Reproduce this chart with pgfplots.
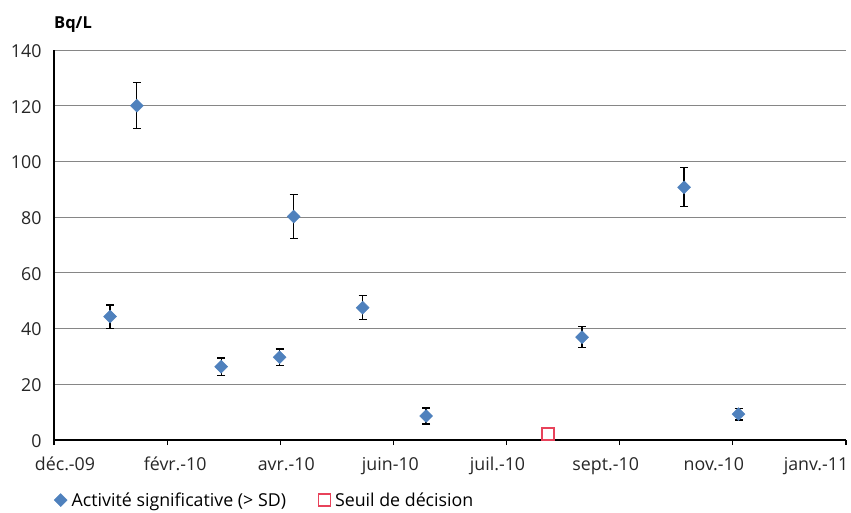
\documentclass[border=0pt]{standalone}
\usepackage{pgfplots}
\pgfplotsset{compat=1.18}
\usepackage{fontspec}
\setmainfont{Open Sans}
\definecolor{serblue}{HTML}{4F81BD}
\definecolor{serred}{HTML}{E8425A}
\definecolor{gridgray}{HTML}{868686}
\newcommand{\lblfont}{\fontsize{17.8bp}{19bp}\selectfont}
\tikzset{xlabnode/.style={anchor=base, inner sep=0pt, font=\lblfont, text=black!85, yshift=-30bp}}
\begin{document}
\begin{tikzpicture}
\path[use as bounding box] (-54bp,-73bp) rectangle (797bp,440bp);
\begin{axis}[
  scale only axis,
  width=792bp, height=390bp,
  xmin=0, xmax=7, ymin=0, ymax=140,
  xtick={0,1,2,3,4,5,6,7},
  xticklabels={},
  ytick={0,20,40,60,80,100,120,140},
  ymajorgrids,
  grid style={gridgray, line width=0.8pt},
  axis x line*=bottom, axis y line*=left,
  axis line style={black, line width=1.6pt, -},
  x tick style={black, line width=1.2pt},
  major tick length=5bp,
  tick align=outside,
  ytick style={draw=none},
  tick label style={font=\lblfont, text=black!85},
  /pgf/number format/assume math mode=true,
  yticklabel style={xshift=-4bp, yshift=-1bp},
  clip=false,
  legend style={at={(axis description cs:0,-0.154)}, anchor=west, draw=none, fill=none,
    inner sep=0pt, font=\lblfont, legend columns=2,
    /tikz/every even column/.append style={column sep=28bp},
    nodes={inner xsep=4.5bp}},
  legend image code/.code={\draw[#1] plot coordinates {(4bp,0)};},
]
\addplot[only marks, mark=square*, mark size=4.6bp, mark options={rotate=45, fill=serblue, draw=serblue},
  error bars/.cd, y dir=both, y explicit,
  error bar style={black, line width=1.3pt},
  error mark options={rotate=90, mark size=4bp, line width=1.3pt, black}]
  coordinates {
  (0.496,44.3) +- (0,4.2)
  (0.732,120) +- (0,8.3)
  (1.478,26.3) +- (0,3.1)
  (1.994,29.7) +- (0,3.0)
  (2.118,80.2) +- (0,7.9)
  (2.728,47.5) +- (0,4.3)
  (3.289,8.6) +- (0,2.9)
  (4.667,36.9) +- (0,3.8)
  (5.569,90.7) +- (0,7.0)
  (6.050,9.3) +- (0,2.1)
  };
\addlegendentry{Activité significative (> SD)}
\addplot[only marks, mark=square, mark size=6bp, mark options={draw=serred, line width=1.8pt, fill=white}]
  coordinates {(4.369,2.2)};
\addlegendentry{Seuil de décision}
\node[anchor=west, inner sep=0pt, font=\fontsize{16.5bp}{18bp}\selectfont\bfseries] at ([yshift=25bp]rel axis cs:0,1) {Bq/L};
\node[xlabnode] at (axis cs:0.097,0) {déc.-09};
\node[xlabnode] at (axis cs:1.071,0) {févr.-10};
\node[xlabnode] at (axis cs:2.053,0) {avr.-10};
\node[xlabnode] at (axis cs:2.973,0) {juin-10};
\node[xlabnode] at (axis cs:3.920,0) {juil.-10};
\node[xlabnode] at (axis cs:4.876,0) {sept.-10};
\node[xlabnode] at (axis cs:5.832,0) {nov.-10};
\node[xlabnode] at (axis cs:6.735,0) {janv.-11};
\end{axis}
\end{tikzpicture}
\end{document}
